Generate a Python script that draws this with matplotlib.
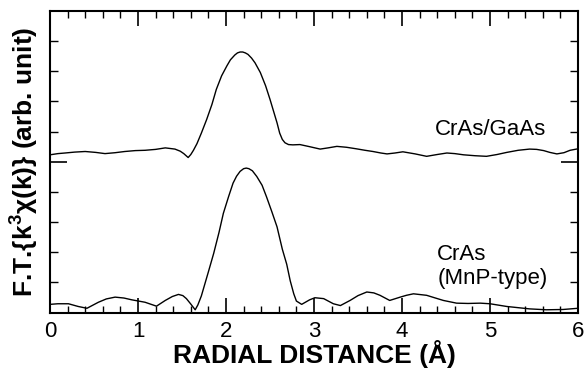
import matplotlib
matplotlib.use("Agg")
import matplotlib.pyplot as plt
from matplotlib.ticker import MultipleLocator, FixedLocator, NullFormatter

plt.rcParams['font.family'] = ['Liberation Sans', 'DejaVu Sans']
plt.rcParams['mathtext.fontset'] = 'custom'
plt.rcParams['mathtext.rm'] = 'Liberation Sans:bold'
plt.rcParams['mathtext.bf'] = 'Liberation Sans:bold'

# CrAs/GaAs (upper, offset) curve
r_upper = [0.00, 0.09, 0.17, 0.28, 0.40, 0.52, 0.625, 0.74, 0.85, 0.97, 1.08, 1.20, 1.31, 1.42,
           1.48, 1.52, 1.57, 1.60, 1.63, 1.67, 1.72, 1.78, 1.84, 1.89, 1.95, 2.01, 2.05, 2.10,
           2.13, 2.16, 2.19, 2.22, 2.25, 2.29, 2.33, 2.39, 2.45, 2.50, 2.54, 2.58, 2.61, 2.64,
           2.67, 2.71, 2.76, 2.84, 2.95, 3.07, 3.16, 3.26, 3.37, 3.48, 3.58, 3.67, 3.76, 3.83,
           3.92, 4.01, 4.15, 4.28, 4.40, 4.51, 4.60, 4.70, 4.83, 4.96, 5.08, 5.19, 5.32, 5.45,
           5.53, 5.61, 5.68, 5.76, 5.84, 5.91, 6.00]
ft_upper = [5.23, 5.27, 5.29, 5.32, 5.34, 5.31, 5.27, 5.30, 5.34, 5.37, 5.38, 5.41, 5.46, 5.42,
            5.35, 5.27, 5.14, 5.24, 5.38, 5.60, 5.95, 6.40, 6.90, 7.40, 7.85, 8.18, 8.38, 8.54,
            8.61, 8.64, 8.64, 8.61, 8.56, 8.44, 8.28, 7.96, 7.52, 7.07, 6.68, 6.29, 5.95, 5.74,
            5.63, 5.57, 5.56, 5.57, 5.50, 5.42, 5.46, 5.51, 5.48, 5.43, 5.38, 5.34, 5.29, 5.26,
            5.29, 5.33, 5.26, 5.18, 5.24, 5.29, 5.27, 5.23, 5.20, 5.18, 5.24, 5.31, 5.38, 5.42,
            5.41, 5.37, 5.31, 5.26, 5.30, 5.38, 5.43]

# CrAs (MnP-type) (lower) curve
r_lower = [0.00, 0.09, 0.21, 0.32, 0.42, 0.55, 0.64, 0.74, 0.84, 0.93, 1.08, 1.21, 1.31, 1.39,
           1.46, 1.51, 1.55, 1.60, 1.65, 1.68, 1.72, 1.76, 1.80, 1.86, 1.92, 1.97, 2.03, 2.08,
           2.12, 2.16, 2.20, 2.23, 2.26, 2.30, 2.35, 2.41, 2.46, 2.52, 2.58, 2.64, 2.69, 2.73,
           2.77, 2.80, 2.86, 2.95, 3.01, 3.11, 3.22, 3.30, 3.41, 3.50, 3.60, 3.68, 3.75, 3.86,
           3.98, 4.05, 4.13, 4.28, 4.38, 4.47, 4.62, 4.75, 4.89, 5.00, 5.19, 5.32, 5.45, 5.64,
           5.83, 6.00]
ft_lower = [0.27, 0.29, 0.29, 0.20, 0.14, 0.34, 0.45, 0.51, 0.48, 0.42, 0.34, 0.21, 0.40, 0.53,
            0.60, 0.56, 0.46, 0.28, 0.09, 0.25, 0.55, 0.95, 1.35, 1.96, 2.65, 3.29, 3.85, 4.29,
            4.52, 4.68, 4.77, 4.79, 4.77, 4.70, 4.51, 4.22, 3.84, 3.35, 2.84, 2.10, 1.60, 1.05,
            0.62, 0.38, 0.27, 0.42, 0.49, 0.46, 0.29, 0.23, 0.40, 0.56, 0.68, 0.65, 0.57, 0.40,
            0.51, 0.57, 0.62, 0.57, 0.48, 0.40, 0.31, 0.30, 0.31, 0.29, 0.20, 0.16, 0.12, 0.09,
            0.10, 0.14]

x_ticks = [0, 1, 2, 3, 4, 5, 6]
x_tick_labels = ["0", "1", "2", "3", "4", "5", "6"]

fig = plt.figure(figsize=(5.88, 3.69), dpi=100)
ax = fig.add_axes([50/588, 1 - 312.5/369, 528/588, 301.5/369])

ax.plot(r_upper, ft_upper, color='black', lw=1.0, solid_joinstyle='round')
ax.plot(r_lower, ft_lower, color='black', lw=1.0, solid_joinstyle='round')

ax.set_xlim(0, 6)
ax.set_ylim(0, 10)

ax.xaxis.set_major_locator(FixedLocator(x_ticks))
ax.set_xticklabels(x_tick_labels)
ax.xaxis.set_minor_locator(MultipleLocator(0.2))
ax.yaxis.set_major_locator(FixedLocator([5]))
ax.yaxis.set_minor_locator(FixedLocator([1, 2, 3, 4, 6, 7, 8, 9]))
ax.yaxis.set_major_formatter(NullFormatter())

ax.tick_params(axis='x', which='major', direction='in', length=11, width=1.2,
               top=True, bottom=True, labelsize=16, pad=6)
ax.tick_params(axis='x', which='minor', direction='in', length=5, width=1.0,
               top=True, bottom=True)
ax.tick_params(axis='y', which='major', direction='in', length=12, width=1.2,
               left=True, right=True)
ax.tick_params(axis='y', which='minor', direction='in', length=6, width=1.0,
               left=True, right=True)

for sp in ax.spines.values():
    sp.set_linewidth(1.5)

ax.set_xlabel("RADIAL DISTANCE (Å)", fontsize=19, fontweight='bold', labelpad=-1)
ax.set_ylabel(r"F.T.{k$^{3}$χ(k)} (arb. unit)", fontsize=19, fontweight='bold', labelpad=4)

ax.text(4.375, 5.9, "CrAs/GaAs", fontsize=16, ha='left', va='baseline')
ax.text(4.4, 0.93, "CrAs\n(MnP-type)", fontsize=16, ha='left', va='baseline', linespacing=1.2)

fig.savefig("out.png", dpi=100)
